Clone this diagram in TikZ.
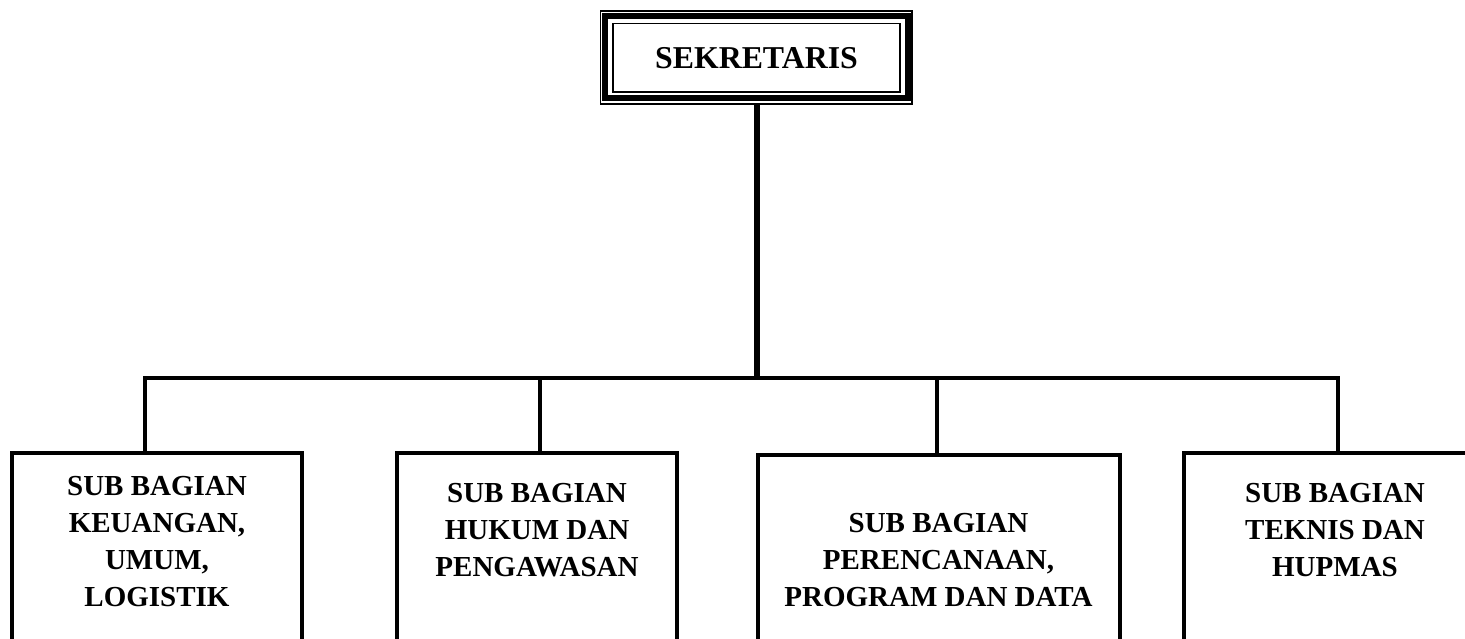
\documentclass[tikz,border=0pt]{standalone}
\usepackage{fontspec}
\setmainfont{Liberation Serif}
\usetikzlibrary{fit}

\tikzset{
  subbox/.style={draw, line width=4pt, inner sep=0pt, outer sep=0pt},
  subtext/.style={align=center, font=\bfseries\fontsize{29}{37}\selectfont},
  link/.style={line width=3.5pt},
}

\begin{document}
\begin{tikzpicture}[x=1pt, y=-1pt]
  \useasboundingbox (0,0) rectangle (1465,639);
  \clip (0,0) rectangle (1465,639);

  % head box with its three frames
  \node[draw, line width=1.5pt, outer sep=0pt, minimum width=287pt, minimum height=68.5pt,
        font=\bfseries\fontsize{31.8}{38}\selectfont] (sek) at (756.5,57.75) {SEKRETARIS};
  \draw[line width=6pt] ([shift={(-8,-7.5)}]sek.north west) rectangle ([shift={(7.5,6)}]sek.south east);
  \draw[line width=1.5pt] ([shift={(-12.5,-12.5)}]sek.north west) rectangle ([shift={(12,12)}]sek.south east);

  % the four sub boxes, cut off at the bottom
  \node[subbox, fit={(12,453) (301.5,800)}] (keu) {};
  \node[subbox, fit={(397,453) (677,800)}] (huk) {};
  \node[subbox, fit={(758,455) (1120,800)}] (per) {};
  \node[subbox, fit={(1184,453) (1600,800)}] (tek) {};

  \node[subtext] (keutxt) at (157,542) {SUB BAGIAN\\KEUANGAN,\\UMUM,\\LOGISTIK};
  \node[subtext] (huktxt) at (537,530) {SUB BAGIAN\\HUKUM DAN\\PENGAWASAN};
  \node[subtext] (pertxt) at (938.5,560) {SUB BAGIAN\\PERENCANAAN,\\PROGRAM DAN DATA};
  \node[subtext] (tektxt) at (1335,530) {SUB BAGIAN\\TEKNIS DAN\\HUPMAS};

  % lines
  \coordinate (sekfoot) at ([shift={(0,12)}]sek.south);
  \coordinate (bus) at (756.5,378);
  \coordinate (keutop) at (145,453);
  \coordinate (huktop) at (540,453);
  \coordinate (pertop) at (937,455);
  \coordinate (tektop) at (1338,453);

  \draw[line width=6pt] (sekfoot) -- (bus);
  \draw[link] (keutop) |- (bus) -| (tektop);
  \draw[link] (huktop) -- (huktop |- bus);
  \draw[link] (pertop) -- (pertop |- bus);
\end{tikzpicture}
\end{document}
